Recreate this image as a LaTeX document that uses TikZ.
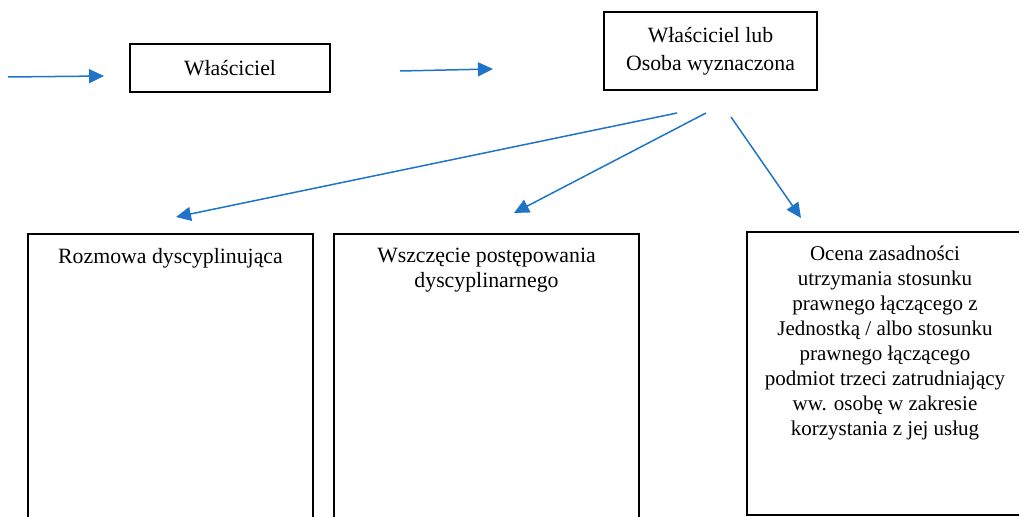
\documentclass[tikz,border=0pt]{standalone}
\usepackage{fontspec}
\setmainfont{Liberation Serif}
\usepackage{tikz}
\usetikzlibrary{arrows.meta}
\usetikzlibrary{positioning}
\definecolor{flowblue}{RGB}{32, 116, 200}

\tikzset{
  box/.style={draw=black, line width=1pt, inner sep=0pt, align=center, font=\fontsize{10.9}{14}\selectfont},
  tallbox/.style={draw=black, line width=1pt, anchor=north west, inner sep=0pt},
  toptext/.style={anchor=north, yshift=-4pt, align=center, font=\fontsize{10.9}{12.5}\selectfont},
  flow/.style={flowblue, line width=0.75pt, -{Triangle[length=7.5pt,width=7pt]}}
}

\begin{document}
\begin{tikzpicture}[x=0.5pt, y=-0.5pt]
            \clip (0,0) rectangle (1019,517);
            % top row
            \node[box, minimum width=100pt, minimum height=24pt] (owner) at (230,68) {Właściciel};
            \node[box, minimum width=106.5pt, minimum height=39pt] (ownerdesig) at (710.5,51)
                 {Właściciel lub\\Osoba wyznaczona};
            % bottom row
            \node[tallbox, minimum width=142.5pt, minimum height=160pt,
                 label={[toptext]north:Rozmowa dyscyplinująca}] (talk) at (27,233) {};
            \node[tallbox, minimum width=152.5pt, minimum height=160pt,
                 label={[toptext]north:Wszczęcie postępowania\\dyscyplinarnego}] (proceed) at (333,233) {};
            \node[tallbox, minimum width=138pt, minimum height=141.5pt,
                 label={[toptext, font=\fontsize{10.5}{12.5}\selectfont]north:Ocena zasadności\\utrzymania stosunku\\prawnego łączącego z\\Jednostką / albo stosunku\\prawnego łączącego\\podmiot trzeci zatrudniający\\ww. osobę w zakresie\\korzystania z jej usług}] (assess) at (746,231) {};
            % arrow ends
            \coordinate (inbeg)  at (8,77);
            \coordinate (inend)  at (104,76);
            \coordinate (midbeg) at (400,71);
            \coordinate (midend) at (493,69);
            \coordinate (talkbeg)    at (677,113);
            \coordinate (talkend)    at (176,217);
            \coordinate (proceedbeg) at (706,113);
            \coordinate (proceedend) at (514,213);
            \coordinate (assessbeg)  at (731,117);
            \coordinate (assessend)  at (801,218);
            \draw[flow] (inbeg) -- (inend);
            \draw[flow] (midbeg) -- (midend);
            \draw[flow] (talkbeg) -- (talkend);
            \draw[flow] (proceedbeg) -- (proceedend);
            \draw[flow] (assessbeg) -- (assessend);
        \end{tikzpicture}
\end{document}
